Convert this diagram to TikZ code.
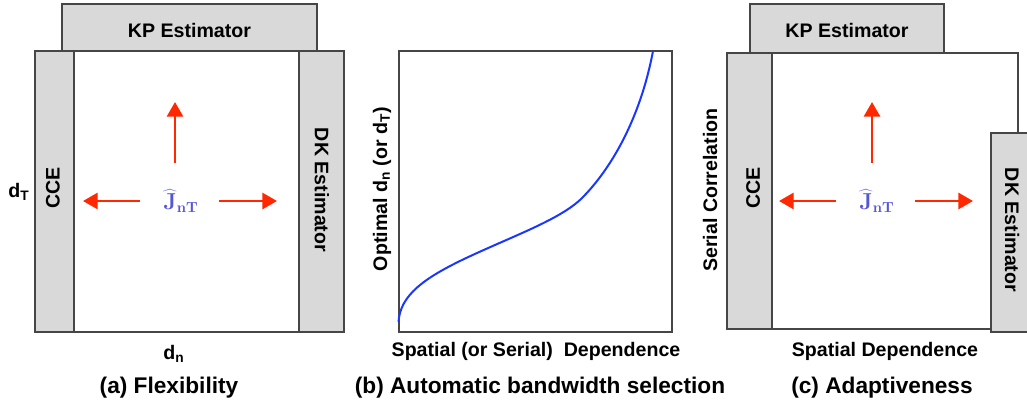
\documentclass[tikz,border=0pt]{standalone}
\usepackage[no-math]{fontspec}
\setmainfont{Liberation Sans}
\usetikzlibrary{arrows.meta,positioning}

\definecolor{boxgray}{RGB}{217,217,217}
\definecolor{edgegray}{RGB}{70,70,70}
\definecolor{arrowred}{RGB}{255,40,0}
\definecolor{curveblue}{RGB}{25,55,255}
\definecolor{jblue}{RGB}{85,85,215}

\begin{document}
\begin{tikzpicture}[x=0.75pt,y=-0.75pt,
  every node/.style={font=\fontsize{14.7}{17}\selectfont\bfseries,inner sep=0pt},
  estbox/.style={fill=boxgray,draw=edgegray,line width=0.8pt},
  frame/.style={draw=edgegray,line width=0.8pt},
  redarrow/.style={arrowred,line width=2.2pt,-{Triangle[length=11pt,width=12pt]}},
  caption/.style={font=\fontsize{17}{20}\selectfont\bfseries},
  jlabel/.style={text=jblue,font=\fontsize{16}{18}\selectfont}]
\useasboundingbox (0,0) rectangle (1027,407);

% (a) flexibility
\draw[estbox] (62,4) rectangle (317,51);
\draw[frame] (35,51) rectangle (344,332);
\draw[estbox] (35,51) rectangle (74,332);
\draw[estbox] (299,51) rectangle (344,332);
\node (kpa) at (189.5,30) {KP Estimator};
\node[rotate=90] (ccea) at (53,188) {CCE};
\node[rotate=-90] (dka) at (322,190) {DK Estimator};
\node (dta) at (19,192) {d\textsubscript{T}};
\node (dna) at (174,354) {d\textsubscript{n}};
\node[jlabel] (ja) at (181,201) {$\widehat{\mathbf{J}}_{\mathbf{nT}}$};
\coordinate (aup0) at (175,163);
\coordinate (aup1) at (175,102);
\coordinate (aleft0) at (140,201);
\coordinate (aleft1) at (83,201);
\coordinate (aright0) at (219,201);
\coordinate (aright1) at (277,201);
\draw[redarrow] (aup0) -- (aup1);
\draw[redarrow] (aleft0) -- (aleft1);
\draw[redarrow] (aright0) -- (aright1);
\node[caption] (capa) at (169,388) {(a) Flexibility};

% (b) bandwidth selection
\draw[frame] (399,51) rectangle (672,332);
\draw[curveblue,line width=1.5pt] (398.5,322)
  .. controls (400,295) and (425,278) .. (462,260)
  .. controls (510,237) and (560,220) .. (582,198)
  .. controls (610,170) and (640,120) .. (653,51);
\node[rotate=90] (ylabb) at (382,189) {Optimal d\textsubscript{n} (or d\textsubscript{T})};
\node (xlabb) at (536,351) {Spatial (or Serial)\ \ Dependence};
\node[caption] (capb) at (540,388) {(b) Automatic bandwidth selection};

% (c) adaptiveness
\draw[estbox] (750,4) rectangle (944,53);
\draw[frame] (991,329) -- (727,329) -- (727,53) -- (1018,53) -- (1018,133);
\draw[estbox] (727,53) rectangle (772,329);
\fill[boxgray] (991,133) rectangle (1027,332);
\draw[frame] (1027,133) -- (991,133) -- (991,332) -- (1027,332);
\node (kpc) at (847,30) {KP Estimator};
\node[rotate=90] (ccec) at (753,188) {CCE};
\node[rotate=-90] (dkc) at (1012,230) {DK Estimator};
\node[rotate=90] (ylabc) at (710,190) {Serial Correlation};
\node (xlabc) at (885,351) {Spatial Dependence};
\node[jlabel] (jc) at (877,201) {$\widehat{\mathbf{J}}_{\mathbf{nT}}$};
\coordinate (cup0) at (872,163);
\coordinate (cup1) at (872,102);
\coordinate (cleft0) at (836,201);
\coordinate (cleft1) at (779,201);
\coordinate (cright0) at (915,201);
\coordinate (cright1) at (973,201);
\draw[redarrow] (cup0) -- (cup1);
\draw[redarrow] (cleft0) -- (cleft1);
\draw[redarrow] (cright0) -- (cright1);
\node[caption] (capc) at (882,388) {(c) Adaptiveness};
\end{tikzpicture}
\end{document}
